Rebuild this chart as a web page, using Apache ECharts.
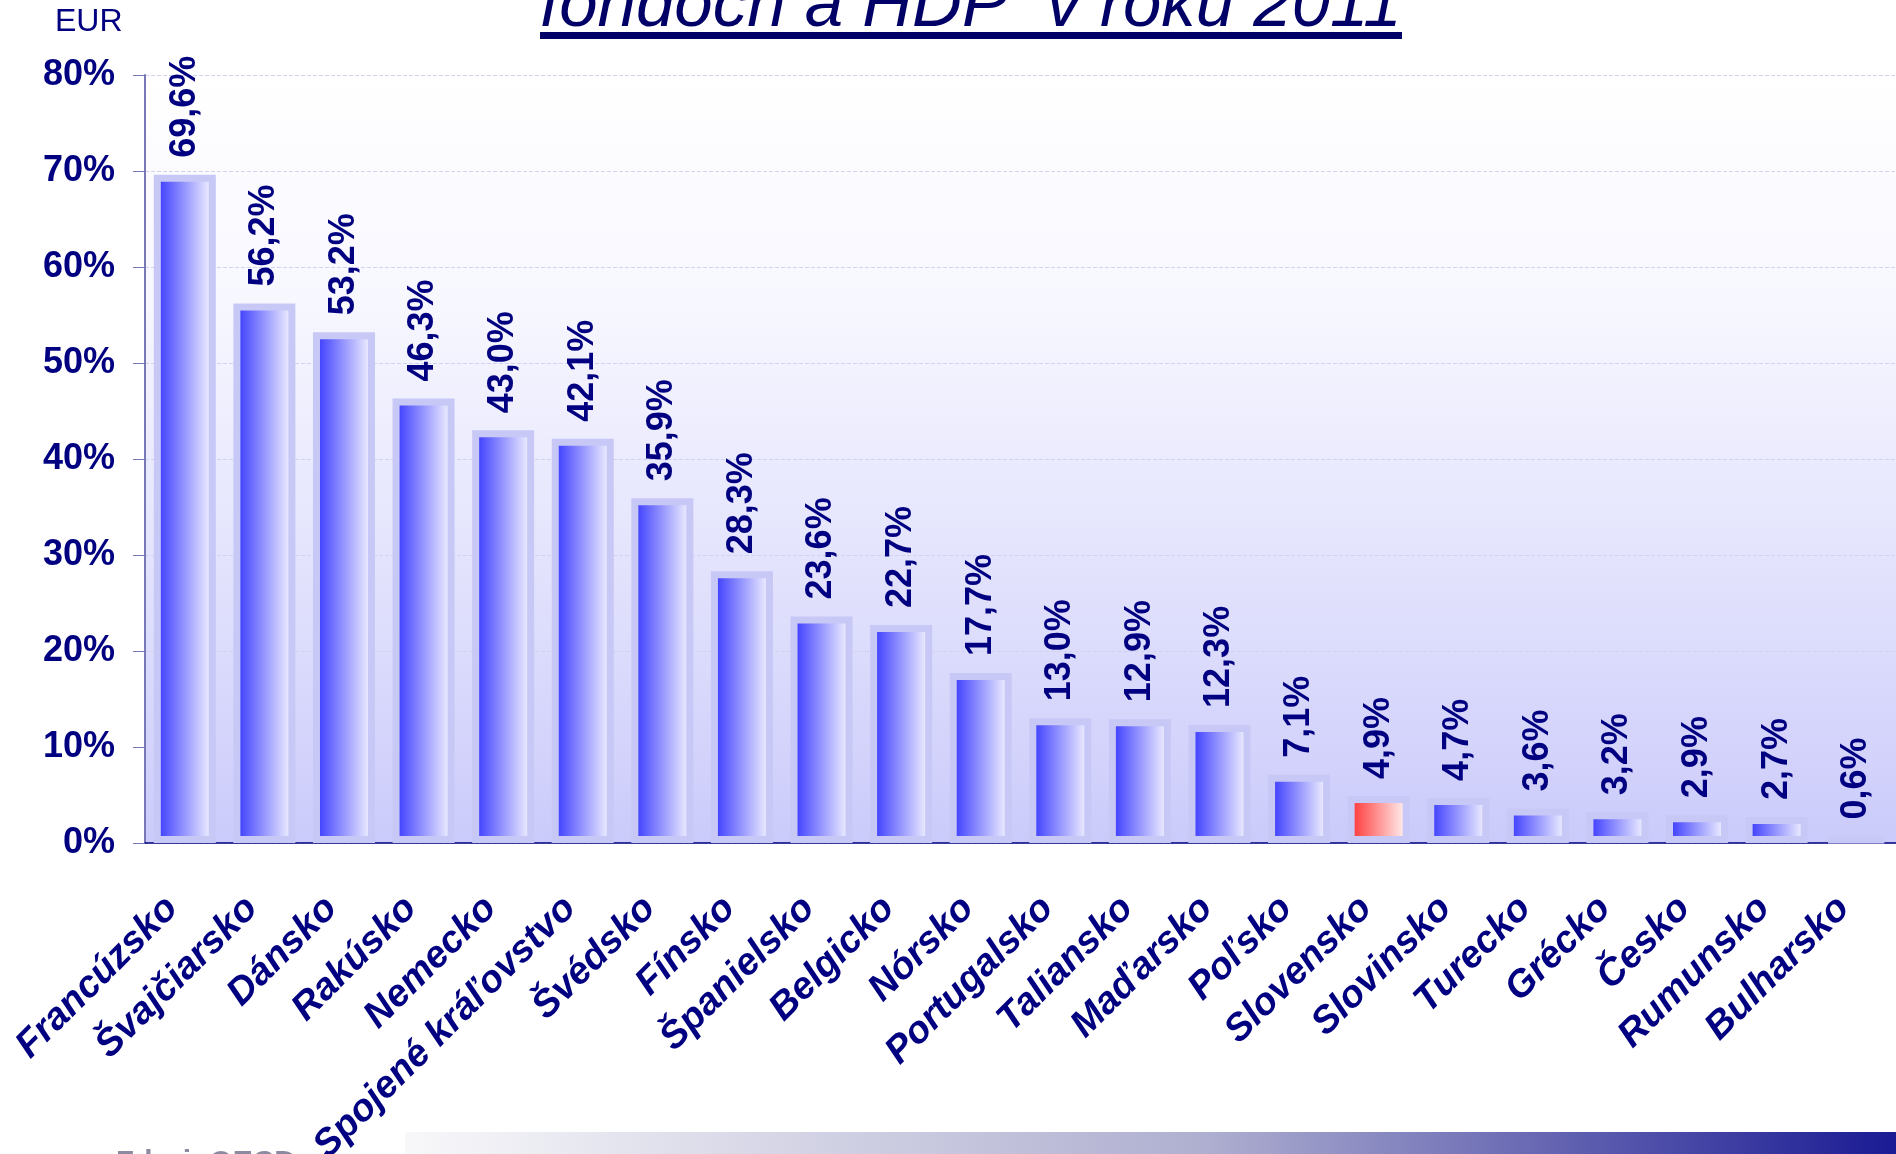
<!DOCTYPE html>
<html>
<head>
<meta charset="utf-8">
<title>fondy a HDP 2011</title>
<script src="https://cdn.jsdelivr.net/npm/echarts@6/dist/echarts.min.js"></script>
<style>
    html, body {margin: 0; padding: 0; background: #fff;}
    #char1 {width: 1896px; height: 1154px;}
</style>
</head>
<body>
<div id="char1"></div>
<script>
// krajiny
var categories = ['Francúzsko', 'Švajčiarsko', 'Dánsko', 'Rakúsko', 'Nemecko', 'Spojené kráľovstvo', 'Švédsko',
    'Fínsko', 'Španielsko', 'Belgicko', 'Nórsko', 'Portugalsko', 'Taliansko', 'Maďarsko', 'Poľsko',
    'Slovensko', 'Slovinsko', 'Turecko', 'Grécko', 'Česko', 'Rumunsko', 'Bulharsko'];
// podiel aktiv fondov na HDP, %
var values = [69.6, 56.2, 53.2, 46.3, 43.0, 42.1, 35.9, 28.3, 23.6, 22.7, 17.7, 13.0, 12.9, 12.3, 7.1,
    4.9, 4.7, 3.6, 3.2, 2.9, 2.7, 0.6];
var highlight = 'Slovensko';
var yTicks = [0, 10, 20, 30, 40, 50, 60, 70, 80];

(function (window, echarts) {
    var FONT = 'Liberation Sans, Arial, sans-serif';
    var NAVY = '#000080';

    var char1 = echarts.init(document.getElementById('char1'));

    function barFill(left) {
        return new echarts.graphic.LinearGradient(0, 0, 1, 0, [
            {offset: 0, color: left},
            {offset: 1, color: '#ffffff'}
        ]);
    }

    var data = [];
    categories.forEach(function (c, i) {
        data.push({
            value    : values[i],
            itemStyle: {color: barFill(c === highlight ? '#ff2a2a' : '#2e2eff')}
        });
    });

    var charOption = {
        animation: false,
        graphic  : [
            {   // title, cut off at the top
                type : 'text', left: 540, top: -28,
                style: {text: 'fondoch a HDP  v roku 2011', font: 'italic 69px ' + FONT, fill: '#000066'}
            },
            {type: 'rect', shape: {x: 540, y: 32, width: 862, height: 7}, style: {fill: '#000066'}},
            {
                type : 'text', left: 55, top: 6,
                style: {text: 'EUR', font: '32px ' + FONT, fill: NAVY}
            },
            {   // source note, mostly below the page edge
                type : 'text', left: 116, top: 1148,
                style: {text: 'Zdroj: OECD', font: 'bold 30px ' + FONT, fill: '#8a8aa0'}
            },
            {   // footer band
                type : 'rect', shape: {x: 405, y: 1132, width: 1491, height: 22},
                style: {
                    fill: new echarts.graphic.LinearGradient(0, 0, 1, 0, [
                        {offset: 0, color: '#f8f8fa'},
                        {offset: 0.54, color: '#aeaed0'},
                        {offset: 1, color: '#1a1a94'}
                    ])
                }
            }
        ],
        grid     : {
            left           : 145, right: 0, top: 75, bottom: 311,
            outerBoundsMode: 'none',
            containLabel   : false,
            show           : true, borderWidth: 0,
            backgroundColor: new echarts.graphic.LinearGradient(0, 0, 0, 1, [
                {offset: 0, color: '#ffffff'},
                {offset: 0.3, color: '#f7f7ff'},
                {offset: 0.65, color: '#e2e2fd'},
                {offset: 1, color: '#cbcbfb'}
            ])
        },
        xAxis    : {
            type     : 'category',
            data     : categories,
            axisLine : {lineStyle: {color: NAVY, width: 1.5}},
            axisTick : {length: 12, lineStyle: {color: NAVY}},
            axisLabel: {
                interval  : 0, rotate: 45, margin: 47,
                padding   : [0, 18, 0, 0],
                color     : NAVY, fontFamily: FONT, fontSize: 38,
                fontWeight: 'bold', fontStyle: 'italic'
            }
        },
        yAxis    : {
            type     : 'value',
            min      : yTicks[0], max: yTicks[yTicks.length - 1], interval: 10,
            axisLine : {show: true, lineStyle: {color: '#7878b8', width: 2}},
            axisTick : {show: true, length: 12, lineStyle: {color: '#7878b8'}},
            axisLabel: {
                margin   : 30, color: NAVY, fontFamily: FONT, fontSize: 36, fontWeight: 'bold',
                formatter: '{value}%'
            },
            splitLine: {lineStyle: {color: '#d2d2f0', type: 'dashed'}}
        },
        series   : [{
            type     : 'bar',
            data     : data,
            barWidth : 62,
            itemStyle: {borderColor: '#c8c8f6', borderWidth: 7},
            label    : {
                show         : true, position: 'top', rotate: 90, distance: 17,
                align        : 'left', verticalAlign: 'middle',
                color        : NAVY, fontFamily: FONT, fontSize: 36, fontWeight: 'bold',
                formatter    : function (p) {
                    return p.value.toFixed(1).replace('.', ',') + '%';
                }
            }
        }]
    };
    char1.setOption(charOption);
})(window, echarts);
</script>
</body>
</html>
